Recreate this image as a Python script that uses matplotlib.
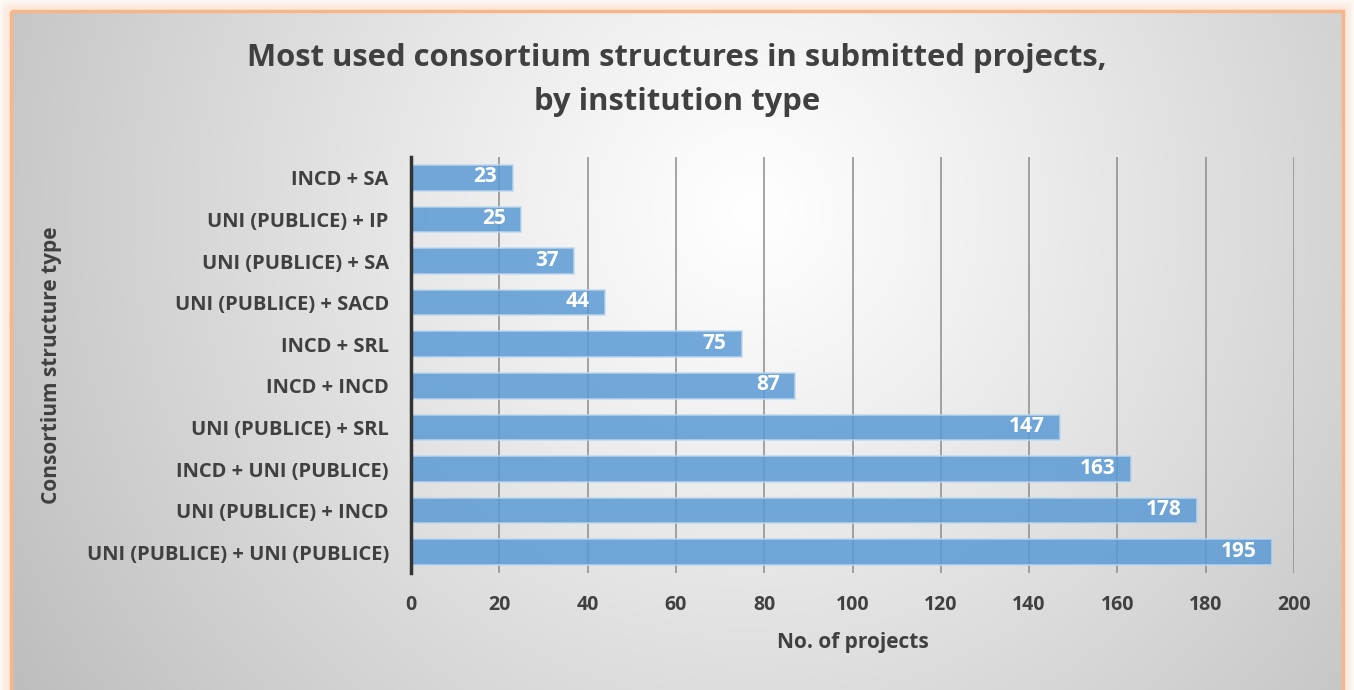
import numpy as np
import matplotlib
matplotlib.use("Agg")
import matplotlib.pyplot as plt
from matplotlib.patches import Rectangle

categories = ["UNI (PUBLICE) + UNI (PUBLICE)", "UNI (PUBLICE) + INCD", "INCD + UNI (PUBLICE)",
              "UNI (PUBLICE) + SRL", "INCD + INCD", "INCD + SRL", "UNI (PUBLICE) + SACD",
              "UNI (PUBLICE) + SA", "UNI (PUBLICE) + IP", "INCD + SA"]
values = [195, 178, 163, 147, 87, 75, 44, 37, 25, 23]
xticks = [0, 20, 40, 60, 80, 100, 120, 140, 160, 180, 200]
title = "Most used consortium structures in submitted projects,\nby institution type"
xlabel = "No. of projects"
ylabel = "Consortium structure type"

plt.rcParams['font.family'] = ['Open Sans', 'DejaVu Sans']
W, H = 1354, 690
fig = plt.figure(figsize=(W/100, H/100), dpi=100)
fig.patch.set_facecolor("white")

# background with glow and gradient
bg = fig.add_axes([0, 0, 1, 1], zorder=-10)
bg.set_xlim(0, W); bg.set_ylim(H, 0); bg.axis("off")
x0, x1, y0, y1 = 11, 1343, 11, 694
for i in range(12, 0, -1):
    a = 0.14 * (13 - i) / 12
    bg.add_patch(Rectangle((x0 - i, y0 - i), (x1 - x0) + 2 * i, (y1 - y0) + 2 * i,
                           facecolor="none", edgecolor="#f7a86a", lw=1.5, alpha=a))
yy, xx = np.mgrid[0:y1 - y0, 0:x1 - x0]
cx, cy = 740, 200
d = np.sqrt((xx - cx) ** 2 + (yy - cy) ** 2)
d = d / d.max()
v = 1.0 - 0.26 * np.clip(d, 0, 1) ** 1.1
img = np.dstack([v, v, v])
bg.imshow(img, extent=(x0, x1, y1, y0), aspect="auto", zorder=1)
bg.add_patch(Rectangle((x0, y0), x1 - x0, y1 - y0, facecolor="none", edgecolor="#f9b58a", lw=2.5, zorder=2))

ax = fig.add_axes([411 / W, 1 - 573 / H, (1294 - 411) / W, (573 - 157) / H])
ax.patch.set_alpha(0)
y = np.arange(len(categories))
ax.barh(y, values, height=0.62, color="#5b9bd5", alpha=0.85, edgecolor="#bdd7ee", lw=1.2, zorder=2)
for yi, v_ in zip(y, values):
    ax.text(v_ - 3.5, yi + 0.02, str(v_), ha="right", va="center", color="white",
            fontsize=15, fontweight="bold", zorder=3)
ax.set_xlim(0, 200)
ax.set_ylim(-0.5, len(categories) - 0.5)
ax.set_xticks(xticks)
ax.set_xticklabels([str(t) for t in xticks], fontsize=14, fontweight="bold", color="#404040")
ax.set_yticks(y)
ax.set_yticklabels(categories, fontsize=14.5, fontweight="bold", color="#404040")
ax.tick_params(axis="y", length=0, pad=16)
ax.tick_params(axis="x", length=0, pad=16)
ax.grid(axis="x", color="#8c8c8c", lw=1.1, zorder=0)
ax.set_axisbelow(True)
for s in ["top", "right", "bottom"]:
    ax.spines[s].set_visible(False)
ax.spines["left"].set_color("#333333")
ax.spines["left"].set_linewidth(2.5)
ax.set_xlabel(xlabel, fontsize=15, fontweight="bold", color="#404040", labelpad=12)
ax.set_ylabel(ylabel, fontsize=15, fontweight="bold", color="#404040")
ax.yaxis.set_label_coords((62 - 411) / (1294 - 411), 0.5)
fig.text(677 / W, 1 - 80 / H, title, ha="center", va="center", fontsize=22.3,
         fontweight="bold", color="#404040", linespacing=1.6)

fig.savefig("out.png", dpi=100)
